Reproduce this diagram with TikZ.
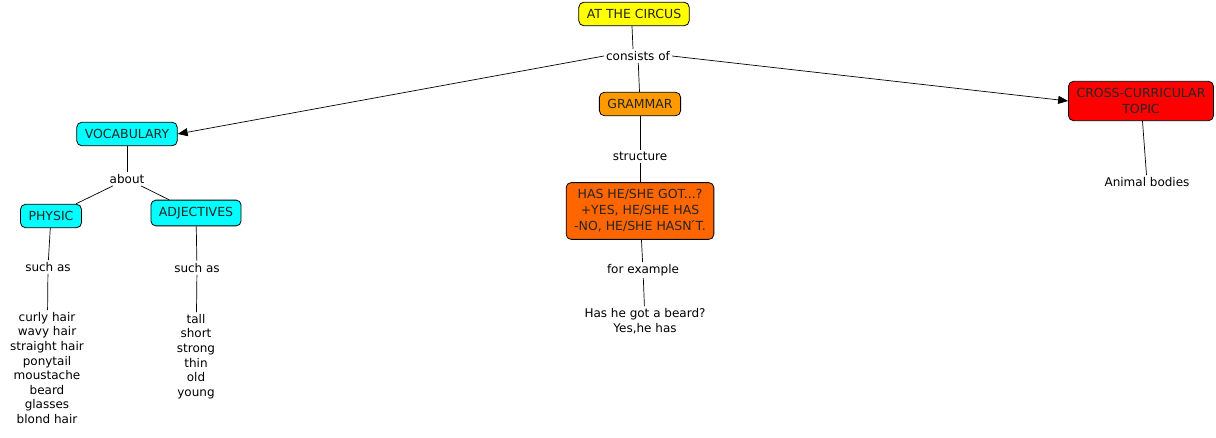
\documentclass[tikz,border=0pt]{standalone}
\usepackage{fontspec}
\setmainfont{DejaVu Sans}
\usetikzlibrary{arrows.meta, positioning, shapes}

\definecolor{circusyellow}{RGB}{255,255,0}
\definecolor{grammarorange}{RGB}{255,153,0}
\definecolor{structorange}{RGB}{255,102,0}
\definecolor{topicred}{RGB}{255,0,0}
\definecolor{vocabcyan}{RGB}{0,255,255}

\tikzset{
  concept/.style={draw=black, line width=0.8pt, rounded corners=5pt, align=center,
    inner xsep=8pt, inner ysep=7pt, text=black!85, font=\fontsize{12.5}{16}\selectfont},
  phrase/.style={align=center, inner sep=2pt, font=\fontsize{12}{14.6}\selectfont},
  link/.style={line width=0.7pt},
  linkarrow/.style={line width=0.7pt, -{Triangle[length=10pt,width=8pt]}}
}

\begin{document}
\begin{tikzpicture}[x=1pt, y=-1pt]
\useasboundingbox (0,0) rectangle (1216,437);

% nodes
\node[concept, fill=circusyellow] (circus) at (634, 14) {AT THE CIRCUS};
\node[phrase] (consists) at (638, 56) {consists of};

\node[concept, fill=vocabcyan] (vocab) at (127, 134) {VOCABULARY};
\node[phrase] (about) at (127, 179) {about};
\node[concept, fill=vocabcyan] (physic) at (51, 216) {PHYSIC};
\node[concept, fill=vocabcyan] (adj) at (196, 213) {ADJECTIVES};
\node[phrase] (such1) at (48, 267) {such as};
\node[phrase] (such2) at (197, 268) {such as};
\node[phrase, anchor=north] (hair) at (47, 310) {curly hair\\wavy hair\\straight hair\\ponytail\\moustache\\beard\\glasses\\blond hair};
\node[phrase, anchor=north] (looks) at (196, 312) {tall\\short\\strong\\thin\\old\\young};

\node[concept, fill=grammarorange] (grammar) at (640, 104) {GRAMMAR};
\node[phrase] (structure) at (640, 156) {structure};
\node[concept, fill=structorange] (hasgot) at (640, 211) {HAS HE/SHE GOT...?\\+YES, HE/SHE HAS\\-NO, HE/SHE HASN\'{}T.};
\node[phrase] (example) at (643, 270) {for example};
\node[phrase] (beard) at (645, 321) {Has he got a beard?\\Yes,he has};

\node[concept, fill=topicred] (topic) at (1141, 101) {CROSS-CURRICULAR\\TOPIC};
\node[phrase] (bodies) at (1147, 182) {Animal bodies};

% arrows
\draw [link] (circus.south -| 632,0) -- (consists.north -| 633,0);
\draw [link] (consists) -- (grammar);
\draw [linkarrow] (consists.west) -- (vocab.east);
\draw [linkarrow] (consists.east) -- (topic.west);

\draw [link] (vocab) -- (about);
\draw [link] (about) -- (physic);
\draw [link] (about) -- (adj);
\draw [link] (physic) -- (such1);
\draw [link] (such1) -- (hair);
\draw [link] (adj) -- (such2);
\draw [link] (such2) -- (looks);

\draw [link] (grammar) -- (structure);
\draw [link] (structure) -- (hasgot);
\draw [link] (hasgot) -- (example);
\draw [link] (example) -- (beard);

\draw [link] (topic) -- (bodies);

\end{tikzpicture}
\end{document}
